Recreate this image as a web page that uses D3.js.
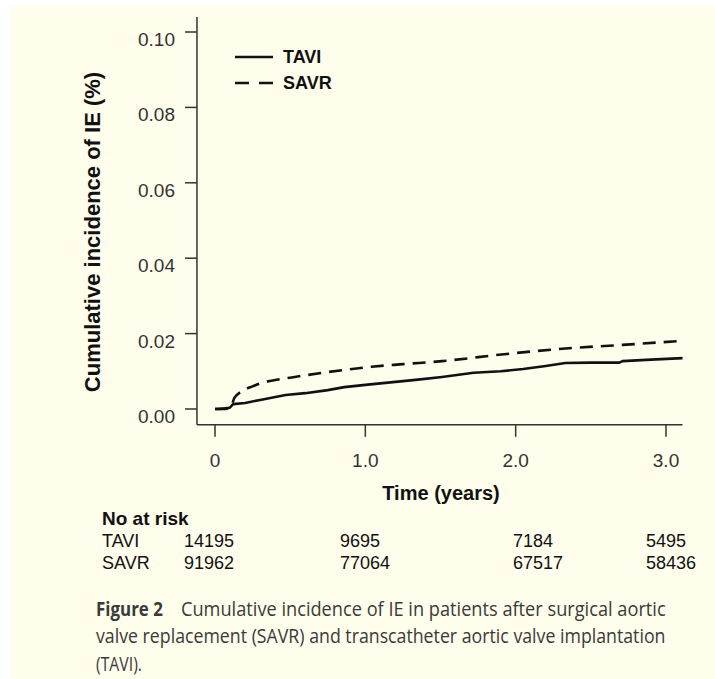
<!DOCTYPE html>
<html>
<head>
<meta charset="utf-8">
<script src="https://cdn.jsdelivr.net/npm/d3@7"></script>
<style>
  body { margin: 0; background: #ffffff; }
  svg { display: block; }
</style>
</head>
<body>
<div id="chart"></div>
<script>
// Kaplan-Meier style curves
var taviTime  = [0, 0.07, 0.1, 0.12, 0.2, 0.3, 0.47, 0.6, 0.75, 0.86, 1.0, 1.2, 1.35, 1.51, 1.72, 1.9, 2.05, 2.2, 2.33, 2.5, 2.69, 2.71, 2.9, 3.11];
var taviValue = [0, 0, 0.0004, 0.0013, 0.0016, 0.0024, 0.0037, 0.0042, 0.0050, 0.0058, 0.0064, 0.0072, 0.0078, 0.0085, 0.0096, 0.0100, 0.0106, 0.0114, 0.0122, 0.0123, 0.0123, 0.0127, 0.0131, 0.0135];
var savrTime  = [0, 0.1, 0.13, 0.17, 0.25, 0.31, 0.42, 0.53, 0.75, 1.04, 1.25, 1.51, 1.94, 2.38, 2.71, 3.11];
var savrValue = [0, 0.0003, 0.0030, 0.0045, 0.0060, 0.0069, 0.0078, 0.0085, 0.0098, 0.0112, 0.0119, 0.0127, 0.0146, 0.0162, 0.0170, 0.0181];

var xTicks = [0, 1, 2, 3];
var xTickLabels = ["0", "1.0", "2.0", "3.0"];
var yTicks = [0, 0.02, 0.04, 0.06, 0.08, 0.10];

var riskGroups = ["TAVI", "SAVR"];
var taviAtRisk = [14195, 9695, 7184, 5495];
var savrAtRisk = [91962, 77064, 67517, 58436];

var width = 715, height = 679;

var svg = d3.select("#chart")
  .append("svg")
    .attr("width", width)
    .attr("height", height);

// cream page
svg.append("rect")
  .attr("x", 11).attr("y", 6)
  .attr("width", width - 11).attr("height", height - 6)
  .style("fill", "#fffdeb");

var x = d3.scaleLinear().domain([0, 3]).range([215, 666]);
var y = d3.scaleLinear().domain([0, 0.10]).range([409, 32]);

var axisColor = "#333";
var font = "'Liberation Sans', Arial, sans-serif";

// L shaped frame
svg.append("line")
  .attr("x1", x(-0.12)).attr("x2", x(-0.12))
  .attr("y1", y(0.104)).attr("y2", y(-0.0042))
  .style("stroke", axisColor).style("stroke-width", 1.5);
svg.append("line")
  .attr("x1", x(-0.12)).attr("x2", x(3.11))
  .attr("y1", y(-0.0042)).attr("y2", y(-0.0042))
  .style("stroke", axisColor).style("stroke-width", 1.5);

// y ticks
var yAxis = svg.append("g");
yAxis.selectAll("line")
  .data(yTicks).enter().append("line")
  .attr("x1", x(-0.12) - 12).attr("x2", x(-0.12))
  .attr("y1", function(d) { return y(d); })
  .attr("y2", function(d) { return y(d); })
  .style("stroke", axisColor).style("stroke-width", 1.5);
yAxis.selectAll("text")
  .data(yTicks).enter().append("text")
  .attr("x", 175)
  .attr("y", function(d) { return y(d) + 14; })
  .attr("text-anchor", "end")
  .attr("font-family", font)
  .attr("font-size", "19px")
  .attr("fill", "#333")
  .text(function(d) { return d3.format(".2f")(d); });

// x ticks
var xAxis = svg.append("g");
xAxis.selectAll("line")
  .data(xTicks).enter().append("line")
  .attr("x1", function(d) { return x(d); })
  .attr("x2", function(d) { return x(d); })
  .attr("y1", y(-0.0042)).attr("y2", y(-0.0042) + 12)
  .style("stroke", axisColor).style("stroke-width", 1.5);
xAxis.selectAll("text")
  .data(xTicks).enter().append("text")
  .attr("x", function(d) { return x(d); })
  .attr("y", 467)
  .attr("text-anchor", "middle")
  .attr("font-family", font)
  .attr("font-size", "19px")
  .attr("fill", "#333")
  .text(function(d, i) { return xTickLabels[i]; });

// axis titles
svg.append("text")
  .attr("x", 441).attr("y", 500)
  .attr("text-anchor", "middle")
  .attr("font-family", font).attr("font-weight", "bold")
  .attr("font-size", "20px").attr("fill", "#111")
  .text("Time (years)");

svg.append("text")
  .attr("transform", "translate(100,232) rotate(-90)")
  .attr("text-anchor", "middle")
  .attr("font-family", font).attr("font-weight", "bold")
  .attr("font-size", "22px").attr("fill", "#111")
  .text("Cumulative incidence of IE (%)");

// curves
var tavi = taviTime.map(function(t, i) { return [t, taviValue[i]]; });
var savr = savrTime.map(function(t, i) { return [t, savrValue[i]]; });

var plainLine = d3.line()
  .x(function(d) { return x(d[0]); })
  .y(function(d) { return y(d[1]); });
var smoothLine = d3.line()
  .x(function(d) { return x(d[0]); })
  .y(function(d) { return y(d[1]); })
  .curve(d3.curveMonotoneX);

svg.append("path")
  .datum(savr)
  .attr("d", smoothLine)
  .style("fill", "none").style("stroke", "#111")
  .style("stroke-width", 2.6)
  .style("stroke-dasharray", "13,8");

svg.append("path")
  .datum(tavi)
  .attr("d", plainLine)
  .style("fill", "none").style("stroke", "#111")
  .style("stroke-width", 2.6)
  .style("stroke-linejoin", "round");

// legend
var legend = svg.append("g");
legend.append("line")
  .attr("x1", 235).attr("x2", 273).attr("y1", 57).attr("y2", 57)
  .style("stroke", "#111").style("stroke-width", 2.6);
legend.append("line")
  .attr("x1", 235).attr("x2", 273).attr("y1", 83).attr("y2", 83)
  .style("stroke", "#111").style("stroke-width", 2.6)
  .style("stroke-dasharray", "14,10");
legend.append("text")
  .attr("x", 283).attr("y", 63)
  .attr("font-family", font).attr("font-weight", "bold")
  .attr("font-size", "18px").attr("fill", "#111")
  .text("TAVI");
legend.append("text")
  .attr("x", 283).attr("y", 89)
  .attr("font-family", font).attr("font-weight", "bold")
  .attr("font-size", "18px").attr("fill", "#111")
  .text("SAVR");

// number at risk table
var riskCols = [184, 340, 513, 646];
svg.append("text")
  .attr("x", 102).attr("y", 525)
  .attr("font-family", font).attr("font-weight", "bold")
  .attr("font-size", "19px").attr("fill", "#111")
  .text("No at risk");

[taviAtRisk, savrAtRisk].forEach(function(row, r) {
  var by = 547 + r * 22;
  svg.append("text")
    .attr("x", 102).attr("y", by)
    .attr("font-family", font).attr("font-size", "18px").attr("fill", "#111")
    .text(riskGroups[r]);
  svg.selectAll(null)
    .data(row).enter().append("text")
    .attr("x", function(d, i) { return riskCols[i]; })
    .attr("y", by)
    .attr("font-family", font).attr("font-size", "18px").attr("fill", "#111")
    .text(function(d) { return d; });
});

// caption, condensed by squeezing each line to the width it has in the figure
var capFont = "'Open Sans', sans-serif";
var capLines = [
  {x: 96,  y: 616, w: 67,  bold: true,  s: "Figure 2"},
  {x: 181, y: 616, w: 485, bold: false, s: "Cumulative incidence of IE in patients after surgical aortic"},
  {x: 96,  y: 643, w: 570, bold: false, s: "valve replacement (SAVR) and transcatheter aortic valve implantation"},
  {x: 96,  y: 671, w: 46,  bold: false, s: "(TAVI)."}
];
var cap = svg.append("g").attr("fill", "#3a3a3a");
capLines.forEach(function(c) {
  var g = cap.append("g").attr("transform", "translate(" + c.x + "," + c.y + ")");
  var t = g.append("text")
    .attr("font-family", capFont)
    .attr("font-size", "20px")
    .attr("font-weight", c.bold ? "bold" : "normal")
    .text(c.s);
  var natural = t.node().getComputedTextLength();
  t.attr("transform", "scale(" + (c.w / natural) + ",1)");
});
</script>
</body>
</html>
